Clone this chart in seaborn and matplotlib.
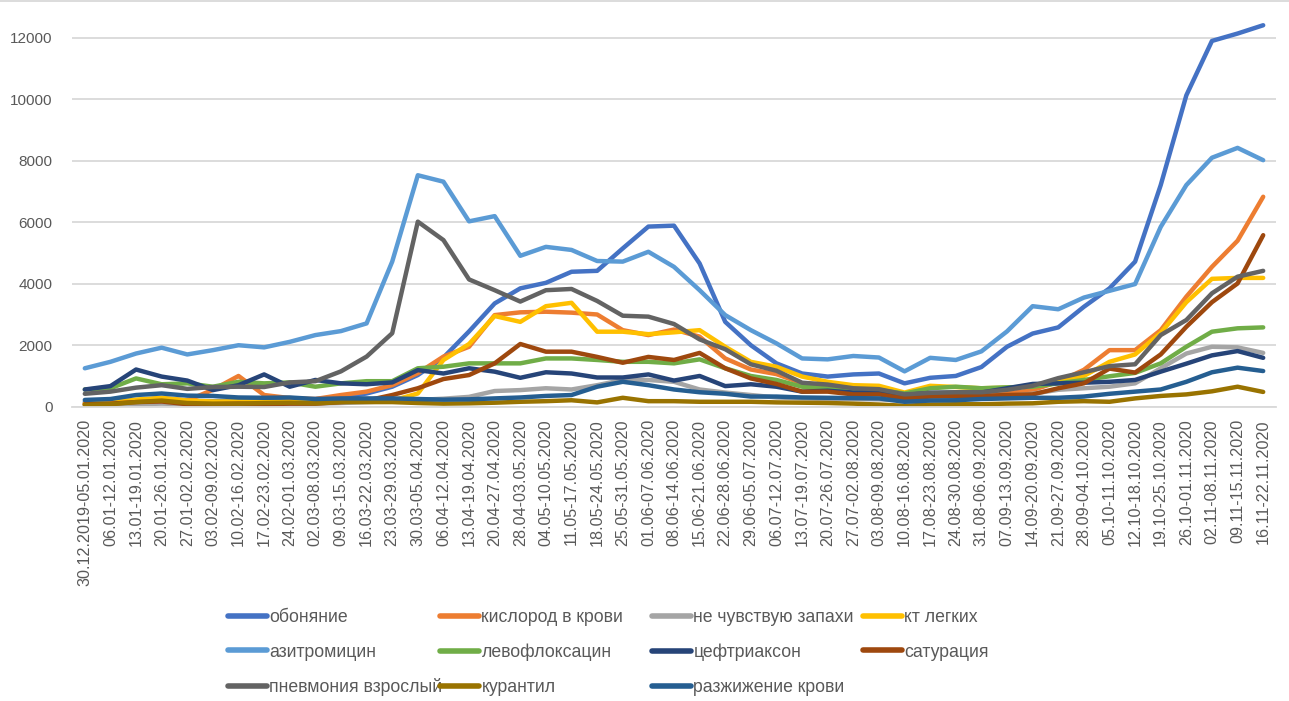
import numpy as np
import pandas as pd
import matplotlib
matplotlib.use("Agg")
import matplotlib.pyplot as plt
from matplotlib import font_manager
from matplotlib.lines import Line2D
import seaborn as sns

# Weekly periods
weeks = [
    "30.12.2019-05.01.2020", "06.01-12.01.2020", "13.01-19.01.2020", "20.01-26.01.2020",
    "27.01-02.02.2020", "03.02-09.02.2020", "10.02-16.02.2020", "17.02-23.02.2020",
    "24.02-01.03.2020", "02.03-08.03.2020", "09.03-15.03.2020", "16.03-22.03.2020",
    "23.03-29.03.2020", "30.03-05.04.2020", "06.04-12.04.2020", "13.04-19.04.2020",
    "20.04-27.04.2020", "28.04-03.05.2020", "04.05-10.05.2020", "11.05-17.05.2020",
    "18.05-24.05.2020", "25.05-31.05.2020", "01.06-07.06.2020", "08.06-14.06.2020",
    "15.06-21.06.2020", "22.06-28.06.2020", "29.06-05.07.2020", "06.07-12.07.2020",
    "13.07-19.07.2020", "20.07-26.07.2020", "27.07-02.08.2020", "03.08-09.08.2020",
    "10.08-16.08.2020", "17.08-23.08.2020", "24.08-30.08.2020", "31.08-06.09.2020",
    "07.09-13.09.2020", "14.09-20.09.2020", "21.09-27.09.2020", "28.09-04.10.2020",
    "05.10-11.10.2020", "12.10-18.10.2020", "19.10-25.10.2020", "26.10-01.11.2020",
    "02.11-08.11.2020", "09.11-15.11.2020", "16.11-22.11.2020",
]

obonyanie = [150, 180, 200, 250, 200, 180, 200, 200, 220, 250, 300, 430, 650, 1030, 1600, 2450,
             3360, 3850, 4030, 4390, 4420, 5150, 5860, 5890, 4660, 2760, 2000, 1410, 1080, 980,
             1050, 1080, 760, 940, 1000, 1290, 1950, 2380, 2580, 3250, 3850, 4720, 7210, 10130,
             11900, 12140, 12410]
kislorod = [100, 130, 200, 280, 200, 550, 1000, 380, 280, 250, 380, 490, 700, 1090, 1630, 1950,
            2980, 3070, 3090, 3060, 3000, 2490, 2330, 2510, 2280, 1570, 1210, 1060, 760, 700,
            600, 430, 330, 350, 380, 380, 430, 540, 810, 1200, 1840, 1840, 2490, 3580, 4550,
            5400, 6830]
ne_chuvstvuyu = [50, 60, 80, 100, 80, 70, 80, 80, 90, 100, 120, 150, 180, 220, 260, 320,
                 510, 540, 600, 560, 700, 870, 870, 810, 560, 460, 380, 300, 270, 250,
                 250, 240, 200, 240, 260, 300, 350, 420, 550, 600, 650, 760, 1250, 1730, 1950,
                 1930, 1750]
kt_legkih = [100, 130, 230, 290, 200, 170, 170, 160, 160, 150, 170, 180, 200, 430, 1520, 2040,
             2950, 2760, 3270, 3380, 2440, 2440, 2360, 2420, 2490, 1950, 1460, 1300, 980, 810,
             700, 680, 460, 680, 640, 600, 620, 660, 810, 1000, 1460, 1700, 2400, 3400, 4160,
             4190, 4190]
azitromitsin = [1250, 1460, 1730, 1920, 1700, 1840, 2000, 1930, 2110, 2330, 2460, 2710, 4720, 7530,
                7320, 6030, 6200, 4910, 5200, 5100, 4740, 4720, 5040, 4550, 3790, 2980, 2490,
                2060, 1570, 1540, 1650, 1600, 1150, 1590, 1520, 1800, 2450, 3270, 3170, 3550,
                3770, 3990, 5850, 7210, 8100, 8420, 8020]
levofloksatsin = [560, 600, 920, 730, 760, 650, 810, 760, 790, 650, 760, 830, 830, 1250, 1300,
                  1410, 1410, 1410, 1570, 1570, 1520, 1460, 1460, 1410, 1540, 1250, 1000, 870,
                  650, 600, 560, 540, 430, 600, 650, 600, 630, 650, 760, 870, 990, 1100, 1410,
                  1950, 2440, 2550, 2580]
ceftriakson = [560, 670, 1210, 980, 850, 540, 700, 1050, 650, 870, 760, 730, 790, 1190, 1080, 1250,
               1140, 940, 1120, 1080, 950, 950, 1050, 850, 1000, 670, 730, 650, 490, 520, 460,
               480, 380, 450, 460, 460, 600, 740, 760, 780, 810, 870, 1140, 1400, 1670, 1810, 1590]
saturatsiya = [80, 100, 150, 170, 80, 80, 100, 80, 100, 100, 150, 200, 380, 600, 900, 1030,
               1410, 2040, 1790, 1790, 1620, 1430, 1620, 1520, 1750, 1250, 920, 740, 490, 490,
               400, 400, 270, 330, 350, 350, 380, 400, 600, 760, 1240, 1110, 1700, 2600, 3400,
               4010, 5580]
pnevmoniya = [420, 490, 620, 700, 580, 640, 650, 640, 790, 830, 1150, 1630, 2390, 6020, 5420, 4140,
              3790, 3420, 3790, 3830, 3440, 2960, 2930, 2690, 2190, 1870, 1380, 1170, 780, 720,
              600, 570, 400, 450, 470, 470, 550, 680, 930, 1120, 1320, 1380, 2330, 2820, 3690,
              4230, 4420]
kurantil = [60, 80, 150, 200, 120, 100, 100, 120, 130, 110, 150, 150, 150, 120, 100, 110, 130,
            160, 180, 210, 140, 290, 180, 180, 160, 160, 160, 140, 130, 120, 100, 70, 30, 70, 80,
            80, 100, 110, 160, 180, 160, 270, 350, 400, 500, 650, 480]
razzhizhenie = [220, 250, 380, 430, 360, 350, 300, 290, 300, 250, 270, 270, 270, 250, 230, 240,
                270, 300, 350, 380, 650, 810, 700, 560, 470, 420, 330, 330, 300, 290, 280, 270,
                160, 200, 210, 250, 270, 290, 290, 330, 420, 490, 560, 810, 1120, 1270, 1160]

series_names = ["обоняние", "кислород в крови", "не чувствую запахи", "кт легких",
                "азитромицин", "левофлоксацин", "цефтриаксон", "сатурация",
                "пневмония взрослый", "курантил", "разжижение крови"]
series_values = [obonyanie, kislorod, ne_chuvstvuyu, kt_legkih, azitromitsin, levofloksatsin,
                 ceftriakson, saturatsiya, pnevmoniya, kurantil, razzhizhenie]
colors = ["#4472C4", "#ED7D31", "#A5A5A5", "#FFC000", "#5B9BD5", "#70AD47",
          "#264478", "#9E480E", "#636363", "#997300", "#255E91"]
yticks = [0, 2000, 4000, 6000, 8000, 10000, 12000]

rows = []
for name, vals in zip(series_names, series_values):
    for i, v in enumerate(vals):
        rows.append({"week": i, "series": name, "value": v})
df = pd.DataFrame(rows)

sns.set_style("white")
installed = {f.name for f in font_manager.fontManager.ttflist}
tick_font = "Liberation Sans" if "Liberation Sans" in installed else "DejaVu Sans"
plt.rcParams["font.family"] = [tick_font, "DejaVu Sans"]

fig = plt.figure(figsize=(12.89, 7.01), dpi=100)
ax = fig.add_axes([72 / 1289, 294.3 / 701, 1204 / 1289, 0.5788])

sns.lineplot(data=df, x="week", y="value", hue="series", hue_order=series_names,
             palette=colors, linewidth=3.2, sort=False, legend=False, ax=ax)
for line in ax.get_lines():
    line.set_solid_joinstyle("round")
    line.set_solid_capstyle("round")

ax.set_xlim(-0.5, len(weeks) - 0.5)
ax.set_ylim(0, 13200)
ax.set_yticks(yticks)
ax.set_yticklabels([str(t) for t in yticks])
ax.set_xticks(range(len(weeks)))
ax.set_xticklabels(weeks, rotation=90, va="top", ha="center")
ax.yaxis.grid(True, color="#D9D9D9", linewidth=1.3)
ax.set_axisbelow(True)
for s in ["top", "right", "left"]:
    ax.spines[s].set_visible(False)
ax.spines["bottom"].set_color("#D9D9D9")
ax.spines["bottom"].set_linewidth(1.3)
ax.tick_params(axis="both", length=0, colors="#595959", labelsize=11)
ax.tick_params(axis="x", pad=9, labelsize=11.6)
ax.tick_params(axis="y", pad=14)
ax.set_xlabel("")
ax.set_ylabel("")

# chart border line at the very top
fig.add_artist(Line2D([0, 1], [0.9986, 0.9986], color="#D9D9D9", linewidth=1.3,
                      transform=fig.transFigure))

# legend, Excel style: 4 evenly spaced columns, filled row by row
col_x = [228 / 1289, 440 / 1289, 652 / 1289, 863 / 1289]
for c in range(4):
    idx = list(range(c, len(series_names), 4))
    handles = [Line2D([], [], color=colors[k], linewidth=4) for k in idx]
    labels = [series_names[k] for k in idx]
    fig.legend(handles, labels, loc="upper left", bbox_to_anchor=(col_x[c], 1 - 609 / 701),
               frameon=False, borderpad=0, borderaxespad=0, handlelength=2.2,
               handletextpad=0.15, labelspacing=1.0, labelcolor="#595959",
               prop={"size": 12.7})

fig.savefig("out.png", dpi=100)
